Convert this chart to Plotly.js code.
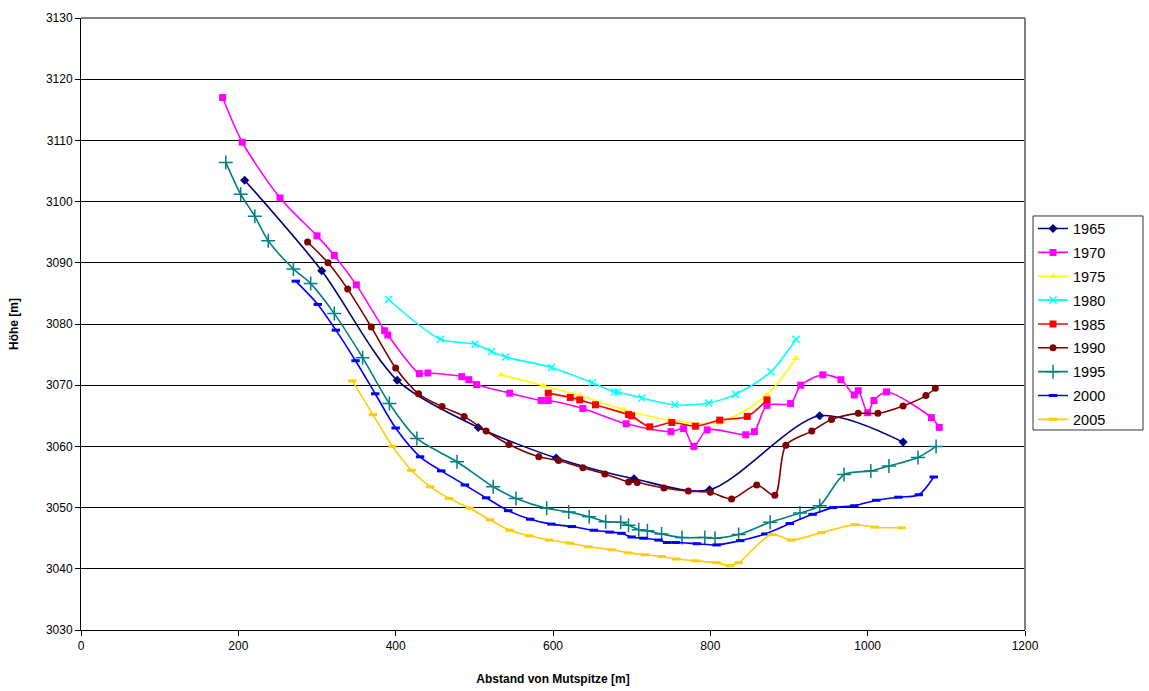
<!DOCTYPE html>
<html>
<head>
<meta charset="utf-8">
<script src="https://cdn.plot.ly/plotly-3.0.1.min.js"></script>
<style>html,body{margin:0;padding:0;background:#fff;}#chart{width:1149px;height:691px;}</style>
</head>
<body>
<div id="chart"></div>
<script>
const seriesNames = ["1965","1970","1975","1980","1985","1990","1995","2000","2005"];

const x1965 = [208, 306, 402, 505, 604, 703, 799, 939, 1045];
const y1965 = [3103.5, 3088.7, 3070.8, 3063.1, 3058.1, 3054.7, 3052.9, 3065.0, 3060.7];

const x1970 = [180, 205, 253, 300, 322, 350, 386, 390, 430, 441, 484, 493, 503, 545, 585, 594, 638, 693, 750, 766, 779, 796, 845, 856, 872, 902, 915, 943, 966, 983, 988, 1000, 1008, 1024, 1081, 1091];
const y1970 = [3117.0, 3109.7, 3100.6, 3094.4, 3091.2, 3086.4, 3078.9, 3078.2, 3071.9, 3072.0, 3071.4, 3070.9, 3070.1, 3068.7, 3067.5, 3067.5, 3066.2, 3063.7, 3062.4, 3062.9, 3060.0, 3062.7, 3061.9, 3062.4, 3066.7, 3067.0, 3070.0, 3071.7, 3070.9, 3068.4, 3069.1, 3065.5, 3067.5, 3068.9, 3064.7, 3063.1];

const x1975 = [534, 588, 634, 690, 748, 811, 871, 909];
const y1975 = [3071.7, 3069.9, 3068.3, 3066.0, 3064.3, 3063.9, 3068.3, 3074.4];

const x1980 = [391, 457, 501, 522, 540, 598, 650, 678, 682, 713, 755, 798, 832, 877, 909];
const y1980 = [3084.0, 3077.5, 3076.7, 3075.5, 3074.6, 3072.9, 3070.4, 3068.9, 3068.9, 3067.9, 3066.8, 3067.1, 3068.5, 3072.2, 3077.5];

const x1985 = [594, 622, 634, 654, 696, 700, 723, 751, 781, 812, 847, 872];
const y1985 = [3068.7, 3068.0, 3067.6, 3066.8, 3065.2, 3065.0, 3063.2, 3063.9, 3063.3, 3064.3, 3064.9, 3067.6];

const x1990 = [288, 314, 339, 369, 400, 429, 459, 487, 515, 544, 582, 607, 638, 666, 696, 707, 741, 772, 800, 827, 859, 882, 896, 929, 954, 988, 1013, 1045, 1074, 1086];
const y1990 = [3093.4, 3090.0, 3085.7, 3079.5, 3072.8, 3068.6, 3066.5, 3064.9, 3062.5, 3060.3, 3058.3, 3057.7, 3056.5, 3055.5, 3054.2, 3054.1, 3053.2, 3052.7, 3052.5, 3051.4, 3053.7, 3052.0, 3060.2, 3062.5, 3064.4, 3065.4, 3065.4, 3066.6, 3068.3, 3069.5];

const x1995 = [184, 203, 221, 238, 270, 292, 322, 358, 392, 427, 478, 524, 553, 592, 620, 646, 667, 686, 696, 709, 720, 738, 764, 793, 806, 836, 876, 914, 939, 970, 1004, 1027, 1064, 1087];
const y1995 = [3106.4, 3101.2, 3097.6, 3093.6, 3089.0, 3086.6, 3081.7, 3074.5, 3067.0, 3061.3, 3057.5, 3053.4, 3051.5, 3049.9, 3049.3, 3048.5, 3047.7, 3047.6, 3047.1, 3046.4, 3046.2, 3045.7, 3045.1, 3045.1, 3045.0, 3045.6, 3047.6, 3049.1, 3050.3, 3055.4, 3056.0, 3056.8, 3058.2, 3060.0];

const x2000 = [273, 301, 324, 349, 374, 400, 431, 458, 488, 515, 543, 571, 598, 624, 652, 672, 687, 700, 715, 734, 745, 756, 783, 808, 838, 870, 901, 930, 956, 983, 1011, 1039, 1065, 1084];
const y2000 = [3087.0, 3083.2, 3079.0, 3074.0, 3068.6, 3063.0, 3058.3, 3056.0, 3053.7, 3051.6, 3049.5, 3048.1, 3047.3, 3046.9, 3046.3, 3046.0, 3045.8, 3045.2, 3045.0, 3044.7, 3044.3, 3044.3, 3044.1, 3043.9, 3044.6, 3045.7, 3047.4, 3048.9, 3050.0, 3050.3, 3051.2, 3051.7, 3052.1, 3055.0];

const x2005 = [345, 371, 396, 420, 444, 468, 494, 520, 545, 570, 595, 621, 645, 675, 696, 717, 738, 757, 781, 808, 825, 836, 878, 903, 941, 984, 1009, 1043];
const y2005 = [3070.7, 3065.2, 3060.0, 3056.1, 3053.4, 3051.5, 3049.9, 3048.0, 3046.3, 3045.4, 3044.7, 3044.2, 3043.6, 3043.1, 3042.6, 3042.3, 3042.0, 3041.6, 3041.3, 3041.0, 3040.5, 3041.0, 3045.6, 3044.7, 3045.9, 3047.2, 3046.8, 3046.7];

const xTickVals = [0, 200, 400, 600, 800, 1000, 1200];
const yTickVals = [3030, 3040, 3050, 3060, 3070, 3080, 3090, 3100, 3110, 3120, 3130];

const xs = [x1965, x1970, x1975, x1980, x1985, x1990, x1995, x2000, x2005];
const ys = [y1965, y1970, y1975, y1980, y1985, y1990, y1995, y2000, y2005];

const styles = [
  {color: "#000080", symbol: "diamond", size: 7},
  {color: "#FF00FF", symbol: "square", size: 7},
  {color: "#FFFF00", symbol: "triangle-up", size: 7},
  {color: "#00FFFF", symbol: "x-thin", size: 7, lw: 1.5},
  {color: "#FF0000", symbol: "square", size: 7},
  {color: "#800000", symbol: "circle", size: 7},
  {color: "#008080", symbol: "cross-thin", size: 10, lw: 1.5},
  {color: "#0000FF", symbol: "line-ew", size: 6, lw: 3},
  {color: "#FFCC00", symbol: "line-ew", size: 6, lw: 3}
];

const traces = seriesNames.map((name, i) => {
  const s = styles[i];
  const marker = {color: s.color, symbol: s.symbol, size: s.size};
  if (s.lw) marker.line = {color: s.color, width: s.lw};
  return {
    x: xs[i], y: ys[i], name: name, type: "scatter", mode: "lines+markers",
    legendgroup: "g" + i,
    line: {color: s.color, width: 1.6, shape: "spline", smoothing: 0.8},
    marker: marker
  };
});

const font = "Arial, 'Liberation Sans', sans-serif";

const layout = {
  width: 1149, height: 691,
  margin: {l: 81, r: 124, t: 18, b: 61},
  paper_bgcolor: "#fff", plot_bgcolor: "#fff",
  font: {family: font, size: 12, color: "#000"},
  showlegend: true,
  legend: {
    x: 1.0085, y: 0.682, xanchor: "left", yanchor: "top",
    borderwidth: 0, bgcolor: "rgba(0,0,0,0)",
    font: {family: font, size: 14.5, color: "#000"},
    tracegroupgap: 2, traceorder: "grouped",
    itemwidth: 30
  },
  xaxis: {
    range: [0, 1200], tickvals: xTickVals, ticktext: xTickVals.map(String),
    showgrid: false, zeroline: false,
    showline: true, linecolor: "#000", linewidth: 1,
    ticks: "outside", ticklen: 5, tickcolor: "#000",
    tickfont: {family: font, size: 12, color: "#000"},
    title: {text: "Abstand von Mutspitze [m]", font: {family: font, size: 12, color: "#000", weight: "bold"}, standoff: 22}
  },
  yaxis: {
    range: [3030, 3130], tickvals: yTickVals, ticktext: yTickVals.map(String),
    showgrid: true, gridcolor: "#000", gridwidth: 1, zeroline: false,
    showline: true, linecolor: "#000", linewidth: 1,
    ticks: "outside", ticklen: 5, tickcolor: "#000",
    tickfont: {family: font, size: 12, color: "#000"},
    title: {text: "Höhe [m]", font: {family: font, size: 12, color: "#000", weight: "bold"}, standoff: 24}
  },
  shapes: [
    {type: "line", xref: "paper", yref: "paper", x0: 0, x1: 1, y0: 1, y1: 1, line: {color: "#808080", width: 2}, layer: "above"},
    {type: "line", xref: "paper", yref: "paper", x0: 1, x1: 1, y0: 0, y1: 1, line: {color: "#808080", width: 2}, layer: "above"},
    {type: "rect", xref: "paper", yref: "paper", x0: 1.0085, x1: 1.125, y0: 0.3268, y1: 0.6765, line: {color: "#333", width: 1}, fillcolor: "rgba(0,0,0,0)", layer: "above"}
  ]
};

Plotly.newPlot("chart", traces, layout, {displayModeBar: false, staticPlot: true});
</script>
</body>
</html>
